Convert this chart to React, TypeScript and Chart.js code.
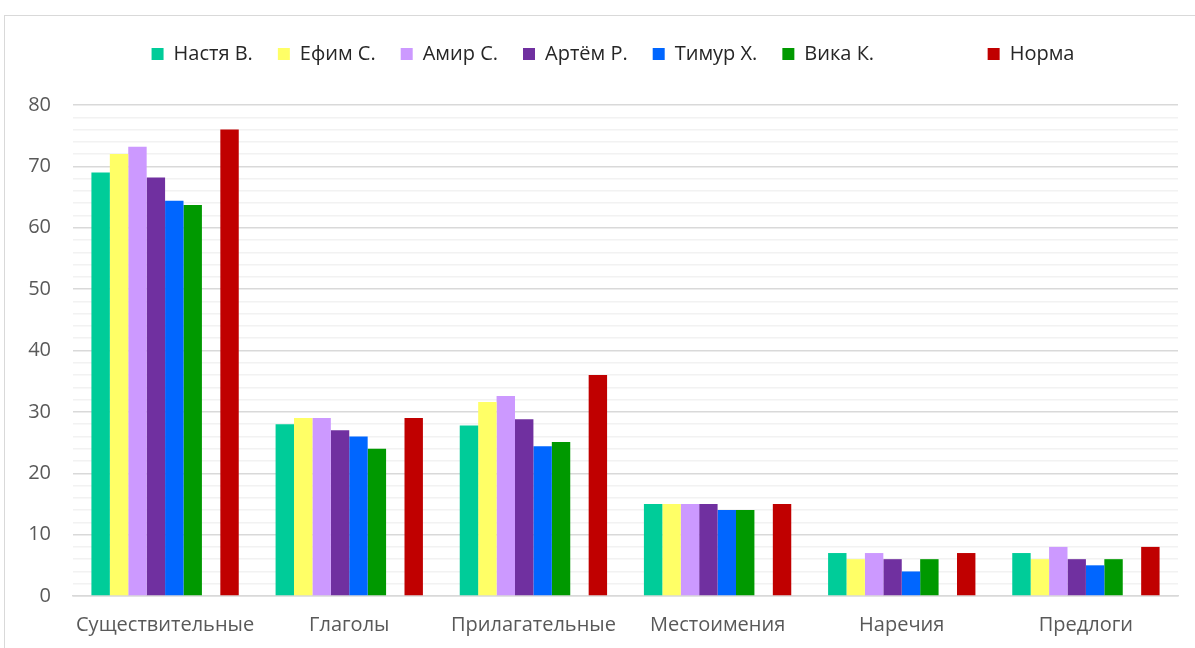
import React, { useEffect, useRef } from "react";
import { Chart, registerables } from "chart.js";

Chart.register(...registerables);

const categories = ["Существительные", "Глаголы", "Прилагательные", "Местоимения", "Наречия", "Предлоги"];
const seriesNames = ["Настя В.", "Ефим С.", "Амир С.", "Артём Р.", "Тимур Х.", "Вика К.", "        ", "Норма"];
const nastya = [69, 28, 27.8, 15, 7, 7];
const efim = [72, 29, 31.6, 15, 6, 6];
const amir = [73.2, 29, 32.6, 15, 7, 8];
const artem = [68.2, 27, 28.8, 15, 6, 6];
const timur = [64.4, 26, 24.4, 14, 4, 5];
const vika = [63.7, 24, 25.1, 14, 6, 6];
const blank = [null, null, null, null, null, null];
const norma = [76, 29, 36, 15, 7, 8];
const seriesColors = ["#00CC99", "#FFFF66", "#CC99FF", "#7030A0", "#0066FF", "#009900", "rgba(0,0,0,0)", "#C00000"];
const yTickMax = 80;

export default function App() {
  const ref = useRef<HTMLCanvasElement | null>(null);
  useEffect(() => {
    if (!ref.current) return;
    const values = [nastya, efim, amir, artem, timur, vika, blank, norma];
    const legendFix = {
      id: "legendFix",
      beforeUpdate(chart: any) {
        const lg = chart.legend;
        if (lg && !lg.__patched) {
          const orig = lg.fit;
          lg.fit = function () {
            orig.call(this);
            this.height = 86;
          };
          lg.__patched = true;
        }
      },
    };
    const chart = new Chart(ref.current, {
      type: "bar",
      data: {
        labels: categories,
        datasets: seriesNames.map((n, i) => ({
          label: n,
          data: values[i] as any,
          backgroundColor: seriesColors[i],
          borderWidth: 0,
          categoryPercentage: 0.8,
          barPercentage: 1,
        })),
      },
      options: {
        animation: false,
        responsive: false,
        maintainAspectRatio: false,
        layout: { padding: { top: 3, left: 0, right: 0, bottom: 0 } },
        plugins: {
          tooltip: { enabled: false },
          legend: {
            position: "top",
            labels: {
              boxWidth: 12,
              boxHeight: 12,
              padding: 25,
              color: "#262626",
              font: { family: "'Open Sans'", size: 20 },
            },
          },
        },
        scales: {
          x: {
            grid: { display: false, drawTicks: false },
            border: { display: true, color: "#d9d9d9", width: 1.5 },
            ticks: {
              color: "#595959",
              padding: 17,
              font: { family: "'Open Sans'", size: 20 },
              maxRotation: 0,
            },
            afterFit: (s: any) => {
              s.height = 52;
            },
          },
          y: {
            min: 0,
            max: yTickMax,
            border: { display: false },
            grid: {
              drawTicks: false,
              color: (c: any) => (c.tick && c.tick.value % 10 === 0 ? "#d9d9d9" : "#f2f2f2"),
              lineWidth: 1.5,
            },
            ticks: {
              stepSize: 2,
              autoSkip: false,
              padding: 22,
              color: "#595959",
              font: { family: "'Open Sans'", size: 20 },
              callback: (v: any) => (Number(v) % 10 === 0 ? String(v) : ""),
            },
            afterFit: (s: any) => {
              s.width = 68;
            },
          },
          y2: {
            position: "right",
            display: true,
            min: 0,
            max: yTickMax,
            grid: { display: false, drawTicks: false },
            border: { display: false },
            ticks: { display: false },
            afterFit: (s: any) => {
              s.width = 43;
            },
          },
        },
      },
      plugins: [legendFix],
    });
    return () => chart.destroy();
  }, []);
  return (
    <div style={{ position: "fixed", left: 0, top: 0, width: 1195, height: 648, overflow: "hidden", background: "#fff" }}>
      <div
        style={{
          position: "absolute",
          left: 4,
          top: 15,
          width: 1216,
          height: 640,
          borderLeft: "1px solid #d9d9d9",
          borderTop: "1px solid #d9d9d9",
        }}
      >
        <canvas ref={ref} width={1216} height={632} style={{ display: "block", width: 1216, height: 632 }} />
      </div>
    </div>
  );
}
